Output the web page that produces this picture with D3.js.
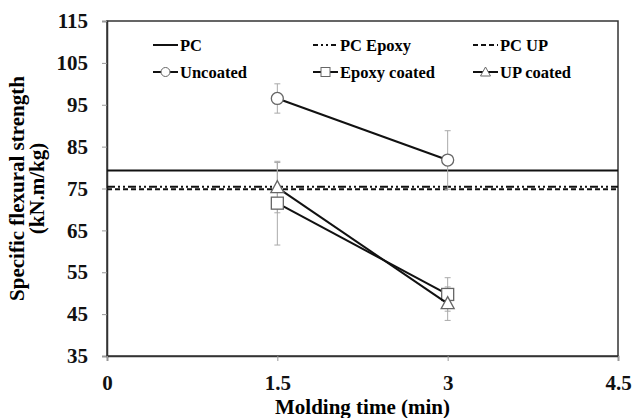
<!DOCTYPE html>
<html>
<head>
<meta charset="utf-8">
<script src="https://cdn.jsdelivr.net/npm/d3@7"></script>
<style>
  body { margin: 0; background: #fff; }
  text { font-family: "Liberation Serif", "Times New Roman", serif; font-weight: bold; }
</style>
</head>
<body>
<div id="chart"></div>
<script>
const WIDTH = 633;
const HEIGHT = 418;
const MARGIN = { top: 21, right: 15, bottom: 62, left: 107 };

// --- data ---
const xTicks = [0, 1.5, 3, 4.5];
const yTicks = [35, 45, 55, 65, 75, 85, 95, 105, 115];
const moldTimes = [1.5, 3];

const refNames = ["PC", "PC Epoxy", "PC UP"];
const refValues = [79.3, 75.4, 74.8];
const refDash = [null, "8,3,2,3,2,3", "5,3"];

const seriesNames = ["Uncoated", "Epoxy coated", "UP coated"];
const seriesMarkers = ["circle", "square", "triangle"];
const uncoated = [96.5, 81.8];
const epoxyCoated = [71.5, 49.7];
const upCoated = [75.2, 47.5];
const uncoatedErr = [3.5, 7];
const epoxyErr = [10, 4];
const upErr = [6, 4];

const seriesValues = [uncoated, epoxyCoated, upCoated];
const seriesErrs = [uncoatedErr, epoxyErr, upErr];

const svg = d3.select("#chart").append("svg")
  .attr("width", WIDTH).attr("height", HEIGHT);

const x = d3.scaleLinear().domain([0, 4.5]).range([MARGIN.left, WIDTH - MARGIN.right]);
const y = d3.scaleLinear().domain([35, 115]).range([HEIGHT - MARGIN.bottom, MARGIN.top]);

// plot frame
svg.append("rect")
  .attr("x", x(0)).attr("y", y(115))
  .attr("width", x(4.5) - x(0)).attr("height", y(35) - y(115))
  .attr("fill", "none").attr("stroke", "#333").attr("stroke-width", 1.5);

// axes
const yAxis = svg.append("g")
  .attr("transform", `translate(${x(0)},0)`)
  .call(d3.axisLeft(y).tickValues(yTicks).tickSize(5).tickPadding(14));
const xAxis = svg.append("g")
  .attr("transform", `translate(0,${y(35)})`)
  .call(d3.axisBottom(x).tickValues(xTicks).tickSize(5).tickPadding(14)
    .tickFormat(d => d));
[yAxis, xAxis].forEach(a => {
  a.select(".domain").attr("stroke", "#333").attr("stroke-width", 1.5);
  a.selectAll(".tick line").attr("stroke", "#999");
  a.selectAll("text").attr("font-size", 21).attr("fill", "#111");
});

// axis titles
svg.append("text")
  .attr("x", (x(0) + x(4.5)) / 2).attr("y", 414)
  .attr("text-anchor", "middle").attr("font-size", 21)
  .text("Molding time (min)");

const yMid = (y(35) + y(115)) / 2;
svg.append("text")
  .attr("transform", `translate(24,${yMid}) rotate(-90)`)
  .attr("text-anchor", "middle").attr("font-size", 21)
  .text("Specific flexural strength");
svg.append("text")
  .attr("transform", `translate(44,${yMid}) rotate(-90)`)
  .attr("text-anchor", "middle").attr("font-size", 21)
  .text("(kN.m/kg)");

// reference lines
refValues.forEach((v, i) => {
  svg.append("line")
    .attr("x1", x(0)).attr("x2", x(4.5))
    .attr("y1", y(v)).attr("y2", y(v))
    .attr("stroke", "#111").attr("stroke-width", 2)
    .attr("stroke-dasharray", refDash[i]);
});

// error bars
seriesValues.forEach((vals, s) => {
  vals.forEach((v, i) => {
    const e = seriesErrs[s][i];
    const g = svg.append("g").attr("stroke", "#aaa").attr("stroke-width", 1);
    g.append("line").attr("x1", x(moldTimes[i])).attr("x2", x(moldTimes[i]))
      .attr("y1", y(v - e)).attr("y2", y(v + e));
    [v - e, v + e].forEach(c => {
      g.append("line").attr("x1", x(moldTimes[i]) - 3).attr("x2", x(moldTimes[i]) + 3)
        .attr("y1", y(c)).attr("y2", y(c));
    });
  });
});

const line = d3.line().x((d, i) => x(moldTimes[i])).y(d => y(d));

function drawMarker(g, type, cx, cy) {
  if (type === "circle") {
    g.append("circle").attr("cx", cx).attr("cy", cy).attr("r", 6);
  } else if (type === "square") {
    g.append("rect").attr("x", cx - 6).attr("y", cy - 6).attr("width", 12).attr("height", 12);
  } else {
    g.append("path").attr("d", `M${cx},${cy - 7}L${cx + 6.5},${cy + 5}L${cx - 6.5},${cy + 5}Z`);
  }
}

seriesValues.forEach((vals, s) => {
  svg.append("path").datum(vals)
    .attr("d", line).attr("fill", "none")
    .attr("stroke", "#111").attr("stroke-width", 2);
  const g = svg.append("g").attr("fill", "#fff").attr("stroke", "#666").attr("stroke-width", 1.3);
  vals.forEach((v, i) => drawMarker(g, seriesMarkers[s], x(moldTimes[i]), y(v)));
});

// legend
const legX = [153, 313, 473];
const legY = [45, 72];
refNames.forEach((n, i) => {
  const g = svg.append("g").attr("transform", `translate(${legX[i]},${legY[0]})`);
  g.append("line").attr("x1", 0).attr("x2", 25).attr("stroke", "#111").attr("stroke-width", 2)
    .attr("stroke-dasharray", i === 1 ? "5,3,2,3,2,3" : refDash[i]);
  g.append("text").attr("x", 27).attr("dy", "0.35em").attr("font-size", 16.5).text(n);
});
seriesNames.forEach((n, i) => {
  const g = svg.append("g").attr("transform", `translate(${legX[i]},${legY[1]})`);
  g.append("line").attr("x1", 0).attr("x2", 25).attr("stroke", "#111").attr("stroke-width", 2);
  const m = g.append("g").attr("fill", "#fff").attr("stroke", "#666").attr("stroke-width", 1);
  if (seriesMarkers[i] === "circle") m.append("circle").attr("cx", 12.5).attr("cy", 0).attr("r", 4.5);
  else if (seriesMarkers[i] === "square") m.append("rect").attr("x", 8).attr("y", -4.5).attr("width", 9).attr("height", 9);
  else m.append("path").attr("d", "M12.5,-5L17.5,4L7.5,4Z");
  g.append("text").attr("x", 27).attr("dy", "0.35em").attr("font-size", 16.5).text(n);
});
</script>
</body>
</html>
